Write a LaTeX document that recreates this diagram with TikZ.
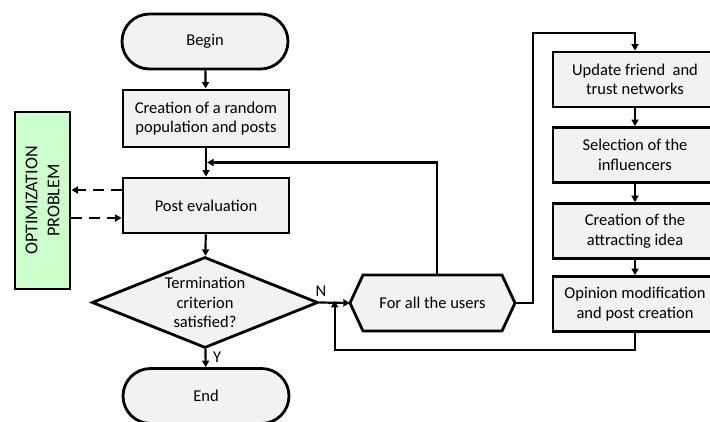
\documentclass[tikz,border=0pt]{standalone}
\usepackage{fontspec}
\setmainfont{Carlito}
\usetikzlibrary{shapes.geometric,shapes.misc,arrows.meta,calc}

\definecolor{boxgray}{HTML}{F2F2F2}
\definecolor{optgreen}{HTML}{CCFFCC}

\begin{document}
\begin{tikzpicture}[
    x=1pt, y=-1pt,
    font=\fontsize{16.5}{19.5}\selectfont,
    box/.style={
      draw,
      line width=2.8pt,
      fill=boxgray,
      align=center,
      inner sep=0pt,
      minimum width=166pt,
      minimum height=55pt
    },
    terminal/.style={
      box,
      rounded rectangle
    },
    decision/.style={
      draw,
      line width=2.8pt,
      fill=boxgray,
      diamond,
      aspect=2.48,
      align=center,
      inner sep=0pt,
      minimum width=226pt,
      minimum height=91pt
    },
    arrow/.style={
      line width=2.2pt,
      -{Triangle[length=6.5pt,width=7pt]}
    },
    dasharrow/.style={
      arrow,
      dash pattern=on 11pt off 7pt
    }
  ]

    \useasboundingbox (0,0) rectangle (710,421);

    % Main column
    \node[terminal] (begin) at (205,41.5) {Begin};
    \node[box, minimum height=57pt] (population) at (206,118.5) {Creation of a random\\population and posts};
    \node[box] (evaluation) at (206,205.5) {Post evaluation};
    \node[decision] (criterion) at (205,302.5) {Termination\\criterion\\satisfied?};
    \node[terminal] (end) at (206,396) {End};

    % Optimization problem
    \node[draw, line width=2.8pt, fill=optgreen, align=center, inner sep=0pt,
          minimum width=177pt, minimum height=55pt, rotate=90,
          font=\fontsize{18}{22}\selectfont]
          (problem) at (42.5,200.5) {OPTIMIZATION\\PROBLEM};

    % For all the users (hexagon)
    \filldraw[line width=2.8pt, fill=boxgray]
      (350,303) -- (363,275) -- (502,275) -- (515,303) -- (502,331) -- (363,331) -- cycle;
    \node[minimum width=165pt, minimum height=56pt, inner sep=0pt] (users) at (432.5,303) {For all the users};

    % User update column
    \node[box, minimum width=164pt] (update) at (635,79.5) {Update friend~ and\\trust networks};
    \node[box, minimum width=164pt] (influencers) at (635,155) {Selection of the\\influencers};
    \node[box, minimum width=164pt] (idea) at (635,231) {Creation of the\\attracting idea};
    \node[box, minimum width=164pt] (opinion) at (635,304) {Opinion modification\\and post creation};

    % Connectors
    \draw[arrow] (begin) -- (population);
    \draw[arrow] (population) -- (evaluation);
    \draw[arrow] (evaluation) -- (criterion);
    \draw[arrow] (criterion) -- (end) node[pos=0.45, right, xshift=3pt] {Y};
    \draw[arrow] (criterion.east) -- (users.west) node[pos=0.05, above, yshift=2pt] {N};

    \foreach \from/\to in {update/influencers, influencers/idea, idea/opinion} {
      \draw[arrow] (\from) -- (\to);
    }

    % Loops
    \coordinate (merge) at ($(population.south)!0.5!(evaluation.north)$);
    \coordinate (nloop) at ($(criterion.east)!0.5!(users.west)$);
    \draw[arrow] ([xshift=4.5pt]users.north) |- ([xshift=1pt]merge);
    \draw[arrow] (users.east) -- ++(18,0) |- ($(update.north)+(0,-18)$) -- (update.north);
    \draw[arrow] (opinion.south) -- ++(0,17) -| ([yshift=2pt]nloop);

    % Evaluation exchange
    \draw[dasharrow] ([yshift=15.5pt]evaluation.west) -- ([yshift=10.5pt]problem.south);
    \draw[dasharrow] ([yshift=-17.5pt]problem.south) -- ([yshift=-12.5pt]evaluation.west);

  \end{tikzpicture}
\end{document}
